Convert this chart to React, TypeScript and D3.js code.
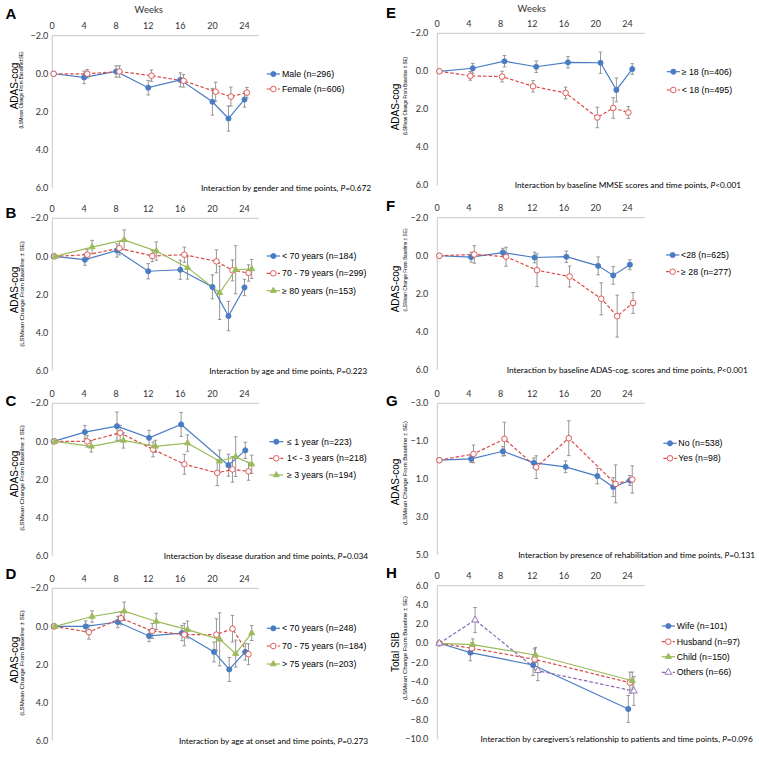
import React from 'react';
import * as d3 from 'd3';

// ---------- axis ticks ----------
const xTicks = [0, 4, 8, 12, 16, 20, 24];
const yTicksADAS = [-2, 0, 2, 4, 6];
const yTicksG = [-3, -1, 1, 3, 5];
const yTicksH = [6, 4, 2, 0, -2, -4, -6, -8, -10];

// ---------- Panel A: gender ----------
const aMaleWeeks = [0.2, 4, 8, 12, 16, 20, 22, 24];
const aMaleVals = [0, 0.19, -0.12, 0.73, 0.32, 1.47, 2.35, 1.35];
const aMaleSE = [0, 0.33, 0.3, 0.38, 0.37, 0.7, 0.66, 0.4];
const aFemaleWeeks = [0.2, 4.4, 8.4, 12.4, 16.4, 20.4, 22.3, 24.3];
const aFemaleVals = [0, 0.0, -0.12, 0.1, 0.37, 0.94, 1.2, 0.99];
const aFemaleSE = [0, 0.22, 0.3, 0.3, 0.33, 0.5, 0.5, 0.27];

// ---------- Panel B: age ----------
const bLt70Weeks = [0.2, 4.1, 8.1, 12, 16, 20, 22, 24];
const bLt70Vals = [0, 0.17, -0.31, 0.78, 0.7, 1.6, 3.13, 1.63];
const bLt70SE = [0, 0.3, 0.35, 0.4, 0.5, 0.63, 0.77, 0.43];
const b7079Weeks = [0.3, 4.4, 8.4, 12.5, 16.5, 20.5, 22.5, 24.5];
const b7079Vals = [0, -0.09, -0.43, -0.02, -0.09, 0.26, 0.73, 0.87];
const b7079SE = [0, 0.26, 0.35, 0.3, 0.4, 0.6, 0.55, 0.43];
const bGe80Weeks = [0.4, 5, 9, 13, 16.9, 20.9, 22.9, 24.9];
const bGe80Vals = [0, -0.49, -0.87, -0.28, 0.59, 1.91, 0.7, 0.66];
const bGe80SE = [0, 0.35, 0.52, 0.48, 0.6, 1.4, 1.26, 0.5];

// ---------- Panel C: disease duration ----------
const cLe1Weeks = [0.2, 4.1, 8.1, 12.1, 16.1, 22, 24.1];
const cLe1Vals = [0, -0.49, -0.8, -0.19, -0.89, 1.25, 0.47];
const cLe1SE = [0, 0.35, 0.74, 0.39, 0.63, 0.58, 0.43];
const c13Weeks = [0.3, 4.4, 8.5, 12.6, 16.5, 20.6, 22.5, 24.5];
const c13Vals = [0, 0, -0.45, 0.42, 1.2, 1.65, 1.47, 1.57];
const c13SE = [0, 0.3, 0.39, 0.39, 0.52, 0.67, 0.67, 0.47];
const cGe3Weeks = [0.4, 4.9, 8.9, 12.9, 16.9, 20.9, 22.9, 24.9];
const cGe3Vals = [0, 0.26, -0.05, 0.26, 0.09, 1.04, 0.8, 1.2];
const cGe3SE = [0, 0.3, 0.4, 0.32, 0.43, 0.58, 1.04, 0.48];

// ---------- Panel D: age at onset ----------
const dLt70Weeks = [0.2, 4.2, 8.2, 12.1, 16.2, 20.2, 22.1, 24.1];
const dLt70Vals = [0, 0, -0.23, 0.5, 0.35, 1.34, 2.26, 1.34];
const dLt70SE = [0, 0.29, 0.3, 0.3, 0.4, 0.52, 0.63, 0.43];
const d7075Weeks = [0.3, 4.6, 8.6, 12.5, 16.5, 20.5, 22.5, 24.5];
const d7075Vals = [0, 0.3, -0.43, 0.24, 0.43, 0.43, 0.12, 1.46];
const d7075SE = [0, 0.37, 0.35, 0.39, 0.59, 0.83, 0.7, 0.55];
const dGt75Weeks = [0.4, 5, 9, 13, 16.9, 20.9, 22.9, 24.9];
const dGt75Vals = [0, -0.52, -0.8, -0.26, 0.17, 0.68, 1.43, 0.35];
const dGt75SE = [0, 0.3, 0.48, 0.43, 0.45, 1.39, 0.71, 0.39];

// ---------- Panel E: baseline MMSE ----------
const eGe18Weeks = [0.3, 4.5, 8.5, 12.5, 16.5, 20.6, 22.6, 24.6];
const eGe18Vals = [0, -0.16, -0.53, -0.24, -0.47, -0.45, 0.98, -0.12];
const eGe18SE = [0, 0.26, 0.3, 0.3, 0.3, 0.56, 0.63, 0.28];
const eLt18Weeks = [0.3, 4.2, 8.2, 12.1, 16.2, 20.2, 22.2, 24.1];
const eLt18Vals = [0, 0.24, 0.28, 0.79, 1.14, 2.43, 1.93, 2.17];
const eLt18SE = [0, 0.23, 0.28, 0.3, 0.31, 0.54, 0.54, 0.31];

// ---------- Panel F: baseline ADAS-cog ----------
const fLt28Weeks = [0.3, 4.3, 8.3, 12.3, 16.3, 20.3, 22.2, 24.3];
const fLt28Vals = [0, 0.07, -0.17, 0.09, 0.05, 0.53, 1.03, 0.47];
const fLt28SE = [0, 0.26, 0.22, 0.28, 0.3, 0.47, 0.46, 0.26];
const fGe28Weeks = [0.3, 4.7, 8.7, 12.6, 16.7, 20.7, 22.7, 24.7];
const fGe28Vals = [0, -0.07, 0.05, 0.76, 1.09, 2.26, 3.17, 2.48];
const fGe28SE = [0, 0.46, 0.5, 0.86, 0.55, 0.84, 1.1, 0.55];

// ---------- Panel G: rehabilitation ----------
const gNoWeeks = [0.3, 4.3, 8.3, 12.2, 16.2, 20.2, 22.2, 24.3];
const gNoVals = [0, -0.07, -0.47, 0.14, 0.35, 0.84, 1.42, 1.07];
const gNoSE = [0, 0.19, 0.25, 0.26, 0.31, 0.41, 0.5, 0.26];
const gYesWeeks = [0.3, 4.6, 8.5, 12.5, 16.6, 22.5, 24.6];
const gYesVals = [0, -0.33, -1.12, 0.37, -1.16, 1.25, 1.02];
const gYesSE = [0, 0.47, 0.88, 0.6, 0.92, 1.0, 0.72];

// ---------- Panel H: caregiver relationship (Total SIB) ----------
const hWifeWeeks = [0.3, 4.2, 12.1, 24.1];
const hWifeVals = [0, -0.97, -2.26, -6.84];
const hWifeSE = [0, 0.85, 1.1, 1.4];
const hHusbandWeeks = [0.3, 4.4, 12.3, 24.3];
const hHusbandVals = [0, -0.52, -1.67, -4.1];
const hHusbandSE = [0, 0.6, 1.1, 1.1];
const hChildWeeks = [0.3, 4.5, 12.4, 24.6];
const hChildVals = [0, -0.14, -1.22, -3.9];
const hChildSE = [0, 0.6, 0.8, 0.9];
const hOthersWeeks = [0.3, 4.8, 12.7, 24.8];
const hOthersVals = [0, 2.43, -2.85, -4.97];
const hOthersSE = [0, 1.3, 1.05, 1.5];

const STYLES: Record<string, any> = {
  blue: { color: '#4A7CC4', dash: null, marker: 'circle', filled: true },
  red: { color: '#DA4B47', dash: '3.5,2', marker: 'circle', filled: false },
  green: { color: '#9BBB59', dash: null, marker: 'triangle', filled: true },
  purple: { color: '#8A6BB0', dash: '3.5,2', marker: 'triangle', filled: false },
};

const mk = (name: string, weeks: number[], vals: number[], se: number[], style: string) => ({ name, weeks, vals, se, style });

const SUB = '(LSMean Change From Baseline \u00b1 SE)';

const panels = [
  {
    letter: 'A', col: 0, yTicks: yTicksADAS, yTop: 35.7, yBot: 188, weeksTitle: true,
    title: 'ADAS-cog', titleY: 86, sub: '(LSMean Change From Baseline\u00b1SE)', subY: 90, subSize: 4.6, letterY: 19,
    note: ['Interaction by gender and time points, ', '=0.672'], noteX: 371,
    legX: [266.7, 280, 282], legY: [74, 89],
    series: [mk('Male (n=296)', aMaleWeeks, aMaleVals, aMaleSE, 'blue'), mk('Female (n=606)', aFemaleWeeks, aFemaleVals, aFemaleSE, 'red')],
  },
  {
    letter: 'B', col: 0, yTicks: yTicksADAS, yTop: 218.3, yBot: 370.7,
    title: 'ADAS-cog', titleY: 290, sub: SUB, subY: 294, subSize: 6.1, letterY: 217.7,
    note: ['Interaction by age and time points, ', '=0.223'], noteX: 367,
    legX: [266.7, 280, 282], legY: [256, 273.3, 290.7],
    series: [
      mk('< 70 years (n=184)', bLt70Weeks, bLt70Vals, bLt70SE, 'blue'),
      mk('70 - 79 years (n=299)', b7079Weeks, b7079Vals, b7079SE, 'red'),
      mk('\u2265 80 years (n=153)', bGe80Weeks, bGe80Vals, bGe80SE, 'green'),
    ],
  },
  {
    letter: 'C', col: 0, yTicks: yTicksADAS, yTop: 403.3, yBot: 555.7,
    title: 'ADAS-cog', titleY: 474, sub: SUB, subY: 478, subSize: 6.1, letterY: 405.7,
    note: ['Interaction by disease duration and time points, ', '=0.034'], noteX: 368,
    legX: [269.3, 283.3, 287], legY: [441.7, 458.3, 475],
    series: [
      mk('\u2264 1 year (n=223)', cLe1Weeks, cLe1Vals, cLe1SE, 'blue'),
      mk('1< - 3 years (n=218)', c13Weeks, c13Vals, c13SE, 'red'),
      mk('\u2265 3 years (n=194)', cGe3Weeks, cGe3Vals, cGe3SE, 'green'),
    ],
  },
  {
    letter: 'D', col: 0, yTicks: yTicksADAS, yTop: 588.3, yBot: 740.7,
    title: 'ADAS-cog', titleY: 660, sub: SUB, subY: 663, subSize: 6.1, letterY: 579,
    note: ['Interaction by age at onset and time points, ', '=0.273'], noteX: 368,
    legX: [266.7, 280, 282], legY: [628.3, 646, 664],
    series: [
      mk('< 70 years (n=248)', dLt70Weeks, dLt70Vals, dLt70SE, 'blue'),
      mk('70 - 75 years (n=184)', d7075Weeks, d7075Vals, d7075SE, 'red'),
      mk('> 75 years (n=203)', dGt75Weeks, dGt75Vals, dGt75SE, 'green'),
    ],
  },
  {
    letter: 'E', col: 1, yTicks: yTicksADAS, yTop: 33.3, yBot: 185.3, weeksTitle: true,
    title: 'ADAS-cog', titleY: 107, sub: SUB, subY: 96, subSize: 4.5, letterY: 18.3,
    note: ['Interaction by baseline MMSE scores and time points, ', '<0.001'], noteX: 741,
    legX: [666.7, 680, 681.7], legY: [71.7, 90],
    series: [
      mk('\u2265 18 (n=406)', eGe18Weeks, eGe18Vals, eGe18SE, 'blue'),
      mk('< 18 (n=495)', eLt18Weeks, eLt18Vals, eLt18SE, 'red'),
    ],
  },
  {
    letter: 'F', col: 1, yTicks: yTicksADAS, yTop: 217.7, yBot: 370,
    title: 'ADAS-cog', titleY: 289, sub: SUB, subY: 270, subSize: 4.8, letterY: 210.7,
    note: ['Interaction by baseline ADAS-cog. scores and time points, ', '<0.001'], noteX: 747.7,
    legX: [666, 679.3, 681], legY: [255, 271.7],
    series: [
      mk('<28 (n=625)', fLt28Weeks, fLt28Vals, fLt28SE, 'blue'),
      mk('\u2265 28 (n=277)', fGe28Weeks, fGe28Vals, fGe28SE, 'red'),
    ],
  },
  {
    letter: 'G', col: 1, yTicks: yTicksG, yTop: 403.3, yBot: 555,
    title: 'ADAS-cog', titleY: 482, sub: SUB, subY: 473, subSize: 6.0, letterY: 405.7,
    note: ['Interaction by presence of rehabilitation and time points, ', '=0.131'], noteX: 755,
    legX: [663.3, 676.7, 678.3], legY: [443.3, 458.3],
    series: [
      mk('No (n=538)', gNoWeeks, gNoVals, gNoSE, 'blue'),
      mk('Yes (n=98)', gYesWeeks, gYesVals, gYesSE, 'red'),
    ],
  },
  {
    letter: 'H', col: 1, yTicks: yTicksH, yTop: 585.7, yBot: 739.3,
    title: 'Total SIB', titleY: 652, sub: SUB, subY: 648, subSize: 6.0, letterY: 578.3,
    note: ['Interaction by caregivers\u2019s relationship to patients and time points, ', '=0.096'], noteX: 752.7,
    legX: [661.7, 675, 676.7], legY: [626, 641.7, 656.7, 672.3],
    series: [
      mk('Wife (n=101)', hWifeWeeks, hWifeVals, hWifeSE, 'blue'),
      mk('Husband (n=97)', hHusbandWeeks, hHusbandVals, hHusbandSE, 'red'),
      mk('Child (n=150)', hChildWeeks, hChildVals, hChildSE, 'green'),
      mk('Others (n=66)', hOthersWeeks, hOthersVals, hOthersSE, 'purple'),
    ],
  },
];

const ARIAL = '"Liberation Sans", Arial, sans-serif';
const CAL = 'Lato, "Liberation Sans", sans-serif';
const AXIS = '#C8C8C8';
const TXT = '#333333';
const ERR = '#8C8C8C';

function Marker({ x, y, style }: { x: number; y: number; style: string }) {
  const s = STYLES[style];
  if (s.marker === 'circle') {
    return <circle cx={x} cy={y} r={s.filled ? 2.6 : 2.8} fill={s.filled ? s.color : '#fff'} stroke={s.color} strokeWidth={s.filled ? 0.8 : 0.9} />;
  }
  const path = d3.symbol(d3.symbolTriangle, s.filled ? 16 : 20)() as string;
  return <path d={path} transform={`translate(${x},${y})`} fill={s.filled ? s.color : '#fff'} stroke={s.color} strokeWidth={0.9} />;
}

function Panel({ p }: { p: any }) {
  const x = d3.scaleLinear().domain([0, 24]).range(p.col === 0 ? [52, 244.5] : [437, 627.5]);
  const ax0 = p.col === 0 ? 52.3 : 437.3;
  const ax1 = p.col === 0 ? 259 : 645;
  const yt: number[] = p.yTicks;
  const y = d3.scaleLinear().domain([yt[0], yt[yt.length - 1]]).range([p.yTop, p.yBot]);
  const fmt = d3.format('.1f');
  const tickLabelX = p.col === 0 ? 48.3 : 428.3;
  const titleX = p.col === 0 ? 14.5 : 395;
  const subX = p.col === 0 ? 21.7 : 405;
  const letterX = p.col === 0 ? 5.5 : 386;
  const line = d3.line<[number, number]>().x((d) => d[0]).y((d) => d[1]);

  return (
    <g>
      <text x={letterX} y={p.letterY} fontFamily={ARIAL} fontWeight="bold" fontSize={15} fill="#000">{p.letter}</text>
      {p.weeksTitle && (
        <text x={(x(0) + x(24)) / 2 + (p.col === 0 ? 0.5 : -0.5)} y={p.col === 0 ? 13 : 11.7} textAnchor="middle" fontFamily={CAL} fontSize={9.5} fill={TXT}>Weeks</text>
      )}
      {/* axes */}
      <line x1={ax0} x2={ax1} y1={p.yTop} y2={p.yTop} stroke={AXIS} strokeWidth={1} />
      <line x1={ax0} x2={ax0} y1={p.yTop} y2={p.yBot} stroke={AXIS} strokeWidth={1} />
      {xTicks.map((t) => (
        <text key={'x' + t} x={x(t)} y={p.yTop - 6.5} textAnchor="middle" fontFamily={CAL} fontSize={9} fill={TXT}>{t}</text>
      ))}
      {yt.map((t) => (
        <text key={'y' + t} x={tickLabelX} y={y(t)} dy="0.35em" textAnchor="end" fontFamily={CAL} fontSize={9} fill={TXT}>{fmt(t)}</text>
      ))}
      {/* y titles */}
      <text transform={`translate(${titleX},${p.titleY}) rotate(-90)`} textAnchor="middle" dy="0.35em" fontFamily={ARIAL} fontSize={10} fill="#000">{p.title}</text>
      <text transform={`translate(${subX},${p.subY}) rotate(-90)`} textAnchor="middle" dy="0.35em" fontFamily={ARIAL} fontSize={p.subSize} fill="#000">{p.sub}</text>
      {/* error bars */}
      {p.series.map((s: any, si: number) => (
        <g key={'e' + si}>
          {s.weeks.map((w: number, i: number) => s.se[i] > 0 ? (
            <g key={i} stroke={ERR} strokeWidth={0.9}>
              <line x1={x(w)} x2={x(w)} y1={y(s.vals[i] - s.se[i])} y2={y(s.vals[i] + s.se[i])} />
              <line x1={x(w) - 1.8} x2={x(w) + 1.8} y1={y(s.vals[i] - s.se[i])} y2={y(s.vals[i] - s.se[i])} />
              <line x1={x(w) - 1.8} x2={x(w) + 1.8} y1={y(s.vals[i] + s.se[i])} y2={y(s.vals[i] + s.se[i])} />
            </g>
          ) : null)}
        </g>
      ))}
      {/* lines */}
      {p.series.map((s: any, si: number) => {
        const st = STYLES[s.style];
        const pts = s.weeks.map((w: number, i: number) => [x(w), y(s.vals[i])] as [number, number]);
        return <path key={'l' + si} d={line(pts) as string} fill="none" stroke={st.color} strokeWidth={1.2} strokeDasharray={st.dash || undefined} />;
      })}
      {/* markers */}
      {p.series.map((s: any, si: number) => (
        <g key={'m' + si}>
          {s.weeks.map((w: number, i: number) => <Marker key={i} x={x(w)} y={y(s.vals[i])} style={s.style} />)}
        </g>
      ))}
      {/* legend */}
      {p.series.map((s: any, si: number) => {
        const st = STYLES[s.style];
        const ly = p.legY[si];
        return (
          <g key={'lg' + si}>
            <line x1={p.legX[0]} x2={p.legX[1]} y1={ly} y2={ly} stroke={st.color} strokeWidth={1.2} strokeDasharray={st.dash || undefined} />
            <Marker x={(p.legX[0] + p.legX[1]) / 2} y={ly} style={s.style} />
            <text x={p.legX[2]} y={ly} dy="0.35em" fontFamily={ARIAL} fontSize={8.8} fill="#000">{s.name}</text>
          </g>
        );
      })}
      {/* note */}
      <text x={p.noteX} y={p.yBot} dy="0.35em" textAnchor="end" fontFamily={CAL} fontSize={8.25} fill="#000">
        {p.note[0]}<tspan fontStyle="italic">P</tspan>{p.note[1]}
      </text>
    </g>
  );
}

export default function App() {
  return (
    <div style={{ position: 'absolute', left: 0, top: 0 }}>
      <svg width={759} height={757} viewBox="0 0 759 757" style={{ display: 'block', background: '#fff' }}>
        <rect width={759} height={757} fill="#fff" />
        {panels.map((p) => <Panel key={p.letter} p={p} />)}
      </svg>
    </div>
  );
}
